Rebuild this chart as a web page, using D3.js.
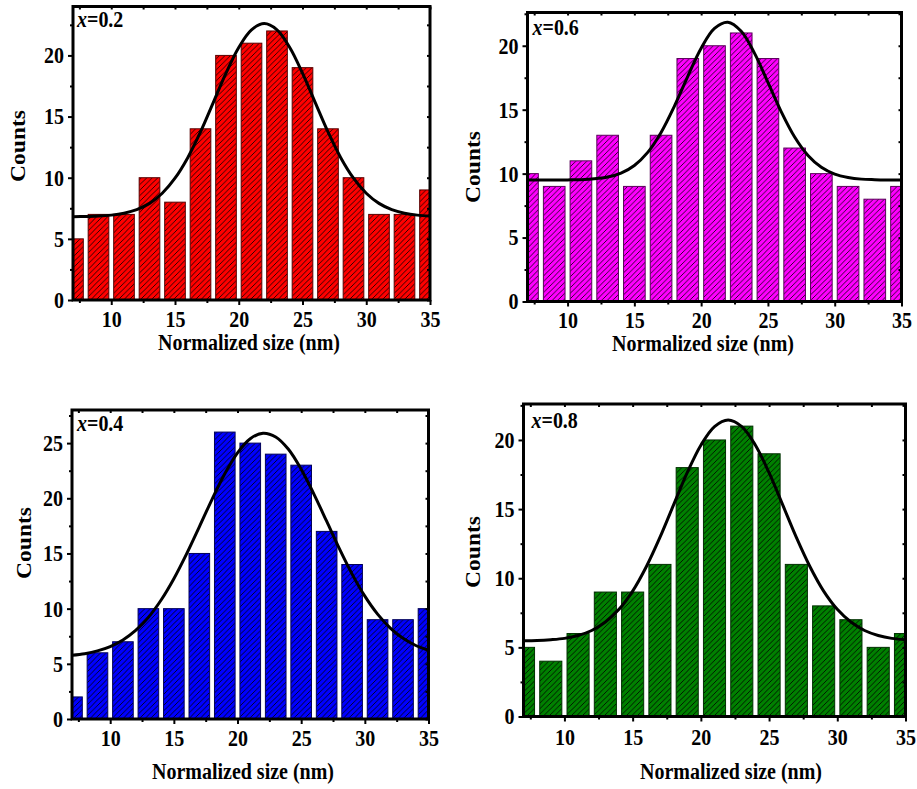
<!DOCTYPE html>
<html>
<head>
  <meta charset="UTF-8" />
  <script src="https://d3js.org/d3.v7.min.js"></script>
  <style>
    body { margin: 0; background: #fff; }
    text { font-family: "Liberation Serif", "Times New Roman", serif; font-weight: bold; fill: #000; }
  </style>
</head>
<body>
<script>
  // bin centres of the size histogram (nm)
  var binCenters = [7, 9, 11, 13, 15, 17, 19, 21, 23, 25, 27, 29, 31, 33, 35];

  // counts
  var countsX02 = [5, 7, 7, 10, 8, 14, 20, 21, 22, 19, 14, 10, 7, 7, 9];
  var countsX06 = [10, 9, 11, 13, 9, 13, 19, 20, 21, 19, 12, 10, 9, 8, 9];
  var countsX04 = [2, 6, 7, 10, 10, 15, 26, 25, 24, 23, 17, 14, 9, 9, 10];
  var countsX08 = [5, 4, 6, 9, 9, 11, 18, 20, 21, 19, 11, 8, 7, 5, 6];

  // fitted curve at every nm
  var fitX = [7, 8, 9, 10, 11, 12, 13, 14, 15, 16, 17, 18, 19, 20, 21, 22,
              23, 24, 25, 26, 27, 28, 29, 30, 31, 32, 33, 34, 35];
  var fitX02 = [6.81, 6.83, 6.86, 6.94, 7.10, 7.39, 7.90, 8.73, 9.96, 11.64, 13.74, 16.14, 18.55, 20.65, 22.09,
                22.60, 22.09, 20.65, 18.55, 16.14, 13.74, 11.64, 9.96, 8.73, 7.90, 7.39, 7.10, 6.94, 6.86];
  var fitX06 = [9.50, 9.50, 9.50, 9.51, 9.53, 9.59, 9.73, 10.04, 10.64, 11.66, 13.22, 15.28, 17.61, 19.81, 21.36,
                21.84, 21.13, 19.40, 17.14, 14.83, 12.86, 11.42, 10.49, 9.96, 9.70, 9.57, 9.53, 9.51, 9.50];
  var fitX04 = [5.78, 5.92, 6.17, 6.56, 7.16, 8.02, 9.21, 10.78, 12.71, 14.96, 17.41, 19.91, 22.23, 24.12, 25.40,
                25.90, 25.56, 24.44, 22.63, 20.38, 17.92, 15.43, 13.13, 11.13, 9.50, 8.24, 7.31, 6.66, 6.23];
  var fitX08 = [5.47, 5.49, 5.55, 5.65, 5.86, 6.22, 6.83, 7.75, 9.07, 10.83, 12.95, 15.30, 17.63, 19.62, 20.97,
                21.45, 20.97, 19.62, 17.63, 15.30, 12.95, 10.83, 9.07, 7.75, 6.83, 6.22, 5.86, 5.65, 5.55];

  // ticks and labels
  var xDomain = [7, 35];
  var xTicks = [10, 15, 20, 25, 30, 35];
  var xMinorTicks = [7.5, 12.5, 17.5, 22.5, 27.5, 32.5];
  var yMaxs = [24, 22.6, 28, 22.6];
  var panelLabels = ["0.2", "0.6", "0.4", "0.8"];
  var xTitle = "Normalized size (nm)";
  var yTitle = "Counts";

  var panelCounts = [countsX02, countsX06, countsX04, countsX08];
  var panelFits = [fitX02, fitX06, fitX04, fitX08];

  // layout and styles (kept apart from the data)
  var layouts = [
    { left: 73, right: 430, top: 6.5, bottom: 300, titleX: 249, titleY: 350, tickY: 327, countsX: 25, countsY: 146, labX: 77, labY: 27 },
    { left: 527.5, right: 901.5, top: 12.5, bottom: 301.5, titleX: 703, titleY: 351, tickY: 328, countsX: 480, countsY: 167, labX: 532.5, labY: 35 },
    { left: 72, right: 428.5, top: 410, bottom: 719, titleX: 243, titleY: 779, tickY: 746, countsX: 31, countsY: 543, labX: 77, labY: 431 },
    { left: 523.5, right: 905.5, top: 404, bottom: 716.5, titleX: 731, titleY: 779, tickY: 745, countsX: 480, countsY: 552, labX: 531.5, labY: 428 }
  ];
  var fills = ["#ff0000", "#ff00ff", "#0000ff", "#008000"];
  var edges = ["#5a0000", "#5a005a", "#00005a", "#003000"];
  var barWidth = 1.62; // in nm
  var stretch = 1.12;  // the original lettering is a bit tall

  var width = 917, height = 789;
  var svg = d3.select("body").append("svg")
    .attr("width", width)
    .attr("height", height);

  var defs = svg.append("defs");

  // hatch pattern: diagonal dark lines over the bar colour
  fills.forEach(function (c, i) {
    var p = defs.append("pattern")
      .attr("id", "hatch" + i)
      .attr("patternUnits", "userSpaceOnUse")
      .attr("width", 5.5)
      .attr("height", 5.5);
    p.append("rect").attr("width", 5.5).attr("height", 5.5).attr("fill", c);
    p.append("path")
      .attr("d", "M-1,1 L1,-1 M0,5.5 L5.5,0 M4.5,6.5 L6.5,4.5")
      .attr("stroke", "#000")
      .attr("stroke-opacity", 0.9)
      .attr("stroke-width", 0.9);
  });

  layouts.forEach(function (L, i) {
    var x = d3.scaleLinear().domain(xDomain).range([L.left, L.right]);
    var y = d3.scaleLinear().domain([0, yMaxs[i]]).range([L.bottom, L.top]);
    var g = svg.append("g");

    defs.append("clipPath").attr("id", "clip" + i)
      .append("rect")
      .attr("x", L.left).attr("y", L.top)
      .attr("width", L.right - L.left).attr("height", L.bottom - L.top);

    var plot = g.append("g").attr("clip-path", "url(#clip" + i + ")");

    // bars
    plot.selectAll("rect.bar")
      .data(binCenters)
      .enter()
      .append("rect")
      .attr("class", "bar")
      .attr("x", function (d) { return x(d - barWidth / 2); })
      .attr("width", function () { return x(xDomain[0] + barWidth) - x(xDomain[0]); })
      .attr("y", function (d, j) { return y(panelCounts[i][j]); })
      .attr("height", function (d, j) { return y(0) - y(panelCounts[i][j]); })
      .attr("fill", "url(#hatch" + i + ")")
      .attr("stroke", edges[i])
      .attr("stroke-width", 1);

    // fitted curve
    var line = d3.line()
      .x(function (d, j) { return x(fitX[j]); })
      .y(function (d) { return y(d); })
      .curve(d3.curveCatmullRom);
    plot.append("path")
      .datum(panelFits[i])
      .attr("d", line)
      .attr("fill", "none")
      .attr("stroke", "#000")
      .attr("stroke-width", 3);

    // axes
    var yTicks = d3.range(0, yMaxs[i] + 0.01, 5);
    var yMinor = d3.range(2.5, yMaxs[i] + 0.01, 5);

    var xAxis = d3.axisBottom(x).tickValues(xTicks).tickSize(5).tickFormat(d3.format("d"));
    var xAxisMinor = d3.axisBottom(x).tickValues(xMinorTicks).tickSize(3).tickFormat("");
    var yAxis = d3.axisLeft(y).tickValues(yTicks).tickSize(5).tickFormat(d3.format("d"));
    var yAxisMinor = d3.axisLeft(y).tickValues(yMinor).tickSize(3).tickFormat("");
    var topAxis = d3.axisBottom(x).tickValues(xTicks.concat(xMinorTicks)).tickSize(3).tickFormat("");
    var rightAxis = d3.axisRight(y).tickValues(yTicks.concat(yMinor)).tickSize(-3).tickFormat("");

    var gx = g.append("g").attr("transform", "translate(0," + L.bottom + ")").call(xAxis);
    g.append("g").attr("transform", "translate(0," + L.bottom + ")").call(xAxisMinor);
    var gy = g.append("g").attr("transform", "translate(" + L.left + ",0)").call(yAxis);
    g.append("g").attr("transform", "translate(" + L.left + ",0)").call(yAxisMinor);
    g.append("g").attr("transform", "translate(0," + L.top + ")").call(topAxis);
    g.append("g").attr("transform", "translate(" + L.right + ",0)").call(rightAxis);

    g.selectAll(".domain").remove();
    g.selectAll(".tick line").attr("stroke", "#000").attr("stroke-width", 2);

    gx.selectAll(".tick text")
      .attr("dy", null)
      .attr("y", (L.tickY - L.bottom) / stretch)
      .attr("transform", "scale(1," + stretch + ")")
      .style("font-size", "20px")
      .style("font-family", "Liberation Serif, serif")
      .style("font-weight", "bold");
    gy.selectAll(".tick text")
      .attr("x", -9)
      .attr("dy", "0.33em")
      .attr("transform", "scale(1," + stretch + ")")
      .style("font-size", "20px")
      .style("font-family", "Liberation Serif, serif")
      .style("font-weight", "bold");

    // frame
    g.append("rect")
      .attr("x", L.left).attr("y", L.top)
      .attr("width", L.right - L.left).attr("height", L.bottom - L.top)
      .attr("fill", "none")
      .attr("stroke", "#000")
      .attr("stroke-width", 3);

    // titles
    g.append("text")
      .attr("transform", "translate(" + L.titleX + "," + L.titleY + ") scale(1," + stretch + ")")
      .attr("text-anchor", "middle")
      .style("font-size", "20px")
      .text(xTitle);

    g.append("text")
      .attr("transform", "translate(" + L.countsX + "," + L.countsY + ") rotate(-90) scale(" + stretch + ",1)")
      .attr("text-anchor", "middle")
      .style("font-size", "21px")
      .text(yTitle);

    var lab = g.append("text")
      .attr("transform", "translate(" + L.labX + "," + L.labY + ") scale(1," + stretch + ")")
      .style("font-size", "20px");
    lab.append("tspan").style("font-style", "italic").text("x");
    lab.append("tspan").text("=" + panelLabels[i]);
  });
</script>
</body>
</html>
